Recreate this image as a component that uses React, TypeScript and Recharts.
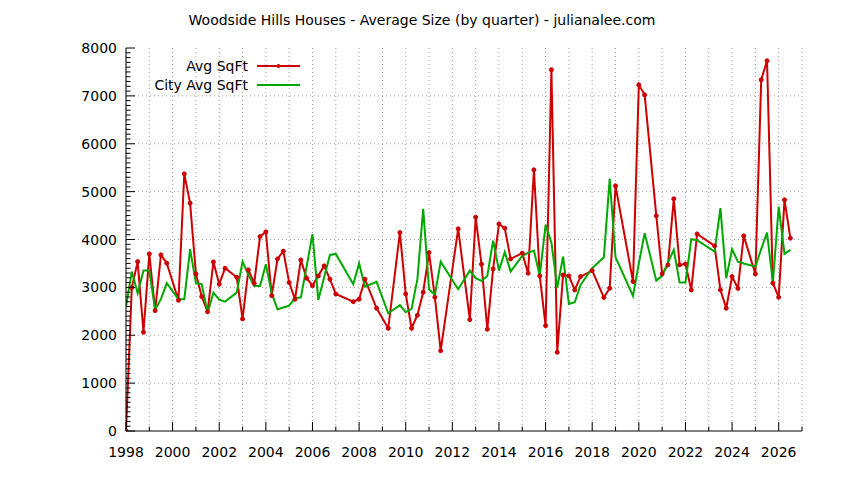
import React from 'react';
import { LineChart, Line, XAxis, YAxis, CartesianGrid } from 'recharts';

// quarter dates (decimal years) where sales were recorded
const quarters = [
  1998.0, 1998.25, 1998.5, 1998.75, 1999.0, 1999.25, 1999.5, 1999.75,
  2000.25, 2000.5, 2000.75, 2001.0, 2001.25, 2001.5, 2001.75, 2002.0,
  2002.25, 2002.75, 2003.0, 2003.25, 2003.5, 2003.75, 2004.0, 2004.25,
  2004.5, 2004.75, 2005.0, 2005.25, 2005.5, 2005.75, 2006.0, 2006.25,
  2006.5, 2006.75, 2007.0, 2007.75, 2008.0, 2008.25, 2008.75, 2009.25,
  2009.75, 2010.0, 2010.25, 2010.5, 2010.75, 2011.0, 2011.25, 2011.5,
  2012.25, 2012.75, 2013.0, 2013.25, 2013.5, 2013.75, 2014.0, 2014.25,
  2014.5, 2015.0, 2015.25, 2015.5, 2015.75, 2016.0, 2016.25, 2016.5,
  2016.75, 2017.0, 2017.25, 2017.5, 2018.0, 2018.5, 2018.75, 2019.0,
  2019.75, 2020.0, 2020.25, 2020.75, 2021.0, 2021.25, 2021.5, 2021.75,
  2022.0, 2022.25, 2022.5, 2023.25, 2023.5, 2023.75, 2024.0, 2024.25,
  2024.5, 2025.0, 2025.25, 2025.5, 2025.75, 2026.0, 2026.25, 2026.5,
];

const avgSqft = [
  0, 2995, 3538, 2063, 3700, 2515, 3678, 3505,
  2731, 5371, 4759, 3281, 2807, 2493, 3532, 3066,
  3400, 3212, 2341, 3365, 3087, 4061, 4159, 2828,
  3595, 3756, 3100, 2752, 3574, 3191, 3037, 3240,
  3449, 3170, 2863, 2702, 2752, 3170, 2564, 2146,
  4145, 2863, 2146, 2418, 2899, 3726, 2794, 1678,
  4222, 2326, 4466, 3484, 2126, 3386, 4326, 4236,
  3595, 3714, 3296, 5455, 3240, 2201, 7545, 1645,
  3260, 3240, 2947, 3225, 3350, 2790, 2982, 5121,
  3121, 7231, 7022, 4494, 3281, 3469, 4849, 3469,
  3490, 2947, 4117, 3867, 2947, 2564, 3225, 2982,
  4076, 3281, 7336, 7733, 3087, 2794, 4828, 4027,
];

const citySqft = [
  2600, 3330, 2878, 3350, 3350, 2530, 2760, 3087,
  2752, 2752, 3797, 3087, 3066, 2460, 2891, 2745,
  2702, 2891, 3538, 3260, 3030, 3030, 3484, 2878,
  2543, 2580, 2618, 2780, 2786, 3440, 4111, 2738,
  3210, 3678, 3699, 3066, 3505, 3016, 3114, 2460,
  2630, 2481, 2550, 3170, 4640, 2961, 2842, 3538,
  2961, 3350, 3191, 3135, 3240, 3977, 3350, 3740,
  3330, 3658, 3720, 3768, 3240, 4305, 3936, 2995,
  3643, 2654, 2690, 3051, 3400, 3630, 5270, 3630,
  2822, 3500, 4132, 3141, 3240, 3520, 3783, 3100,
  3100, 4007, 3986, 3748, 4654, 3191, 3797, 3538,
  3500, 3434, 3800, 4145, 3100, 4688, 3699, 3783,
];

const yearTicks = Array.from({ length: 30 }, (_, i) => 1998 + i);
const sqftTicks = Array.from({ length: 81 }, (_, i) => i * 100);
const gridSqft = [1000, 2000, 3000, 4000, 5000, 6000, 7000];

const data = quarters.map((q, i) => ({ q, avg: avgSqft[i], city: citySqft[i] }));

const RED = '#cc0000';
const GREEN = '#00a800';
const FONT = '"DejaVu Sans", Verdana, sans-serif';
const FS = 14;

const BottomTick = (props: any) => {
  const { x, y, payload } = props;
  const major = payload.value % 2 === 0;
  return (
    <g>
      <line x1={x} y1={y} x2={x} y2={y - (major ? 9 : 4.5)} stroke="#000" />
      {major && (
        <text x={x} y={y + 26} textAnchor="middle" fill="#000" fontSize={FS} fontFamily={FONT}>
          {payload.value}
        </text>
      )}
    </g>
  );
};

const TopTick = (props: any) => {
  const { x, y, payload } = props;
  const major = payload.value % 2 === 0;
  return <line x1={x} y1={y} x2={x} y2={y + (major ? 9 : 4.5)} stroke="#000" />;
};

const LeftTick = (props: any) => {
  const { x, y, payload } = props;
  const major = payload.value % 1000 === 0;
  return (
    <g>
      <line x1={x} y1={y} x2={x + (major ? 9 : 4.5)} y2={y} stroke="#000" />
      {major && (
        <text x={x - 9} y={y + 5} textAnchor="end" fill="#000" fontSize={FS} fontFamily={FONT}>
          {payload.value}
        </text>
      )}
    </g>
  );
};

const RightTick = (props: any) => {
  const { x, y, payload } = props;
  const major = payload.value % 1000 === 0;
  return <line x1={x} y1={y} x2={x - (major ? 9 : 4.5)} y2={y} stroke="#000" />;
};

const LegendBox = () => (
  <svg width={180} height={42} style={{ position: 'absolute', left: 140, top: 55 }}>
    <text x={108} y={16} textAnchor="end" fontSize={FS} fontFamily={FONT} fill="#000">Avg SqFt</text>
    <line x1={117} y1={11} x2={160} y2={11} stroke={RED} strokeWidth={2} />
    <circle cx={138.5} cy={11} r={2} fill={RED} />
    <text x={108} y={35} textAnchor="end" fontSize={FS} fontFamily={FONT} fill="#000">City Avg SqFt</text>
    <line x1={117} y1={30} x2={160} y2={30} stroke={GREEN} strokeWidth={2} />
  </svg>
);

export default function App() {
  return (
    <div style={{ position: 'absolute', left: 0, top: 0, width: 844, height: 480, background: '#fff' }}>
      <svg width={844} height={32} style={{ position: 'absolute', left: 0, top: 0 }}>
        <text x={422} y={25} textAnchor="middle" fontSize={FS} fontFamily={FONT} fill="#000">
          Woodside Hills Houses - Average Size (by quarter) - julianalee.com
        </text>
      </svg>
      <LineChart width={844} height={480} data={data} margin={{ top: 48, right: 42, bottom: 19, left: 66 }}>
        <CartesianGrid
          stroke="#a0a0a0"
          strokeDasharray="1 3"
          horizontalValues={gridSqft}
          verticalValues={yearTicks}
        />
        <XAxis
          dataKey="q"
          type="number"
          domain={[1998, 2027]}
          ticks={yearTicks}
          interval={0}
          height={30}
          tickSize={0}
          tickMargin={0}
          tickLine={false}
          axisLine={{ stroke: '#000' }}
          tick={BottomTick}
          allowDataOverflow
        />
        <XAxis
          xAxisId="top"
          orientation="top"
          dataKey="q"
          type="number"
          domain={[1998, 2027]}
          ticks={yearTicks}
          interval={0}
          height={0}
          tickSize={0}
          tickMargin={0}
          tickLine={false}
          axisLine={{ stroke: '#000' }}
          tick={TopTick}
          allowDataOverflow
        />
        <YAxis
          type="number"
          domain={[0, 8000]}
          ticks={sqftTicks}
          interval={0}
          width={60}
          tickSize={0}
          tickMargin={0}
          tickLine={false}
          axisLine={{ stroke: '#000' }}
          tick={LeftTick}
          allowDataOverflow
        />
        <YAxis
          yAxisId="right"
          orientation="right"
          type="number"
          domain={[0, 8000]}
          ticks={sqftTicks}
          interval={0}
          width={0}
          tickSize={0}
          tickMargin={0}
          tickLine={false}
          axisLine={{ stroke: '#000' }}
          tick={RightTick}
          allowDataOverflow
        />
        <Line
          type="linear"
          dataKey="avg"
          name="Avg SqFt"
          stroke={RED}
          strokeWidth={2}
          dot={{ r: 2, fill: RED, stroke: RED, strokeWidth: 1 }}
          activeDot={false}
          isAnimationActive={false}
        />
        <Line
          type="linear"
          dataKey="city"
          name="City Avg SqFt"
          stroke={GREEN}
          strokeWidth={2}
          dot={false}
          activeDot={false}
          isAnimationActive={false}
        />
      </LineChart>
      <LegendBox />
    </div>
  );
}
